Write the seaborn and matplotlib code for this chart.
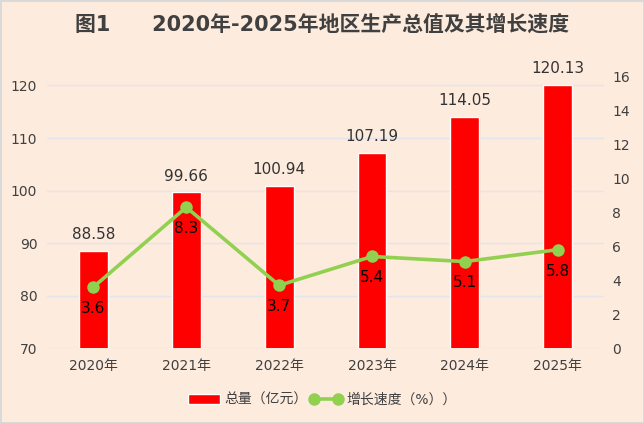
import matplotlib
matplotlib.use("Agg")
import matplotlib.pyplot as plt
import pandas as pd
import seaborn as sns

years = ["2020年", "2021年", "2022年", "2023年", "2024年", "2025年"]
total = [88.58, 99.66, 100.94, 107.19, 114.05, 120.13]
growth = [3.6, 8.3, 3.7, 5.4, 5.1, 5.8]

sns.set_style("white")
plt.rcParams["font.family"] = ["DejaVu Sans", "Noto Sans CJK SC"]

bg = "#fdebde"
fig = plt.figure(figsize=(6.44, 4.23), dpi=100, facecolor=bg)
ax = fig.add_axes([0.073, 0.177, 0.865, 0.642])
ax.set_facecolor("none")

df = pd.DataFrame({"year": years, "total": total, "growth": growth})

sns.barplot(data=df, x="year", y="total", color="#ff0000", width=0.31,
            saturation=1, ax=ax, label="总量（亿元）", zorder=2)
if ax.get_legend():
    ax.get_legend().remove()
ax.set_ylim(70, 121.7)
ax.set_yticks(range(70, 121, 10))
ax.set_xlim(-0.5, 5.5)
ax.grid(axis="y", color="#e4e4ec", linewidth=1, zorder=0)
ax.set_axisbelow(True)
ax.set_xlabel("")
ax.set_ylabel("")
ax.tick_params(axis="both", length=0, labelsize=10, labelcolor="#404040")
ax.tick_params(axis="x", pad=8)
ax.tick_params(axis="y", pad=7)
for s in ax.spines.values():
    s.set_visible(False)

for i, v in enumerate(total):
    ax.annotate(f"{v:.2f}", (i, v), xytext=(0, 6), textcoords="offset points",
                ha="center", va="bottom", fontsize=11, color="#333333")

ax2 = ax.twinx()
sns.lineplot(data=df, x="year", y="growth", color="#92d050", linewidth=2.6,
             marker="o", markersize=9, markeredgewidth=0, ax=ax2,
             label="增长速度（%））", sort=False)
ax2.set_ylim(0, 16)
ax2.set_yticks(range(0, 17, 2))
ax2.set_ylabel("")
ax2.tick_params(axis="y", length=0, labelsize=10, labelcolor="#404040", pad=6)
for s in ax2.spines.values():
    s.set_visible(False)
if ax2.get_legend():
    ax2.get_legend().remove()

for i, v in enumerate(growth):
    ax2.annotate(f"{v:.1f}", (i, v), xytext=(0, -10), textcoords="offset points",
                 ha="center", va="top", fontsize=11, color="#000000")

h1, l1 = ax.get_legend_handles_labels()
h2, l2 = ax2.get_legend_handles_labels()
fig.legend(h1 + h2, l1 + l2, loc="center", bbox_to_anchor=(0.5, 0.055), ncol=2,
           frameon=False, fontsize=10, handlelength=2.3, handletextpad=0.3,
           columnspacing=0.2, numpoints=2, labelcolor="#404040")

fig.text(0.5, 0.943, "图1　　2020年-2025年地区生产总值及其增长速度", ha="center",
         va="center", fontsize=15, fontweight="bold", color="#404040")

fig.patches.append(plt.Rectangle((0, 0), 1, 1, transform=fig.transFigure,
                                 fill=False, edgecolor="#d9d9d9", linewidth=2))

fig.savefig("out.png", dpi=100, facecolor=bg)
